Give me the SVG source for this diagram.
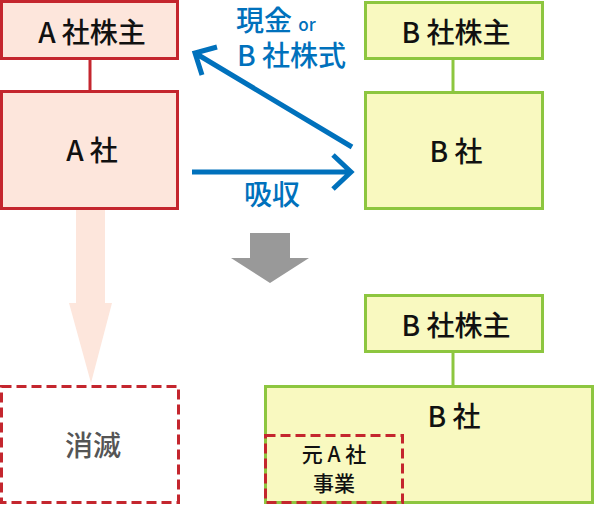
<svg xmlns="http://www.w3.org/2000/svg" width="595" height="505" viewBox="0 0 595 505">
<defs>
<style>
.a{fill:#fde6dc;stroke:#c4262e;stroke-width:3}
.b{fill:#f9f9c0;stroke:#8dc63f;stroke-width:3}
.d{fill:none;stroke:#c4262e;stroke-width:3;stroke-dasharray:10,5}
.t{font-family:"Noto Sans CJK JP","Noto Sans",sans-serif;font-size:28px;font-weight:500;fill:#111;text-anchor:middle}
.s{font-size:21px}
.bl{font-family:"Noto Sans CJK JP","Noto Sans",sans-serif;font-size:28px;font-weight:500;fill:#0071bc}
.c{fill:none;stroke:#0071bc;stroke-width:5}
</style>
</defs>
<g id="connectors">
<line x1="90" y1="58" x2="90" y2="91" stroke="#c4262e" stroke-width="3"/>
<line x1="453" y1="59" x2="453" y2="92" stroke="#8dc63f" stroke-width="3"/>
<line x1="453" y1="352" x2="453" y2="386" stroke="#8dc63f" stroke-width="3"/>
<path class="c" d="M192,172H351M333,155L351,172L333,189"/>
<path class="c" d="M352,147L195,53M217,47L195,53L202,75"/>
<polygon points="76,208 105,208 105,303 112,303 91,383 69,303 76,303" fill="#fde6dc"/>
<polygon points="250,233 290,233 290,258 309,258 270,283 231,258 250,258" fill="#999"/>
</g>
<g id="label-genkin">
<text class="bl" x="236" y="31">現金 <tspan font-size="17">or</tspan></text>
<text class="bl" x="237" y="66">B 社株式</text>
</g>
<g id="label-kyushu"><text class="bl" x="244" y="205">吸収</text></g>
<g id="a-shareholders"><rect class="a" x="1.5" y="1.5" width="176" height="57"/><text class="t" x="92" y="43">A 社株主</text></g>
<g id="a-company"><rect class="a" x="1.5" y="91.5" width="176" height="117"/><text class="t" x="92" y="161">A 社</text></g>
<g id="b-shareholders"><rect class="b" x="365.5" y="2.5" width="177" height="56"/><text class="t" x="456" y="43">B 社株主</text></g>
<g id="b-company"><rect class="b" x="365.5" y="92.5" width="177" height="116"/><text class="t" x="456" y="162">B 社</text></g>
<g id="extinct"><rect class="d" x="1.5" y="386.5" width="177" height="116"/><text class="t" x="93" y="456" style="fill:#555">消滅</text></g>
<g id="b-shareholders-after"><rect class="b" x="365.5" y="295.5" width="177" height="56"/><text class="t" x="456" y="336">B 社株主</text></g>
<g id="b-company-after"><rect class="b" x="265.5" y="386.5" width="327" height="116"/><text class="t" x="454" y="427">B 社</text></g>
<g id="former-a-business"><rect class="d" x="265.5" y="435.5" width="137" height="67"/><text class="t s" x="334" y="462">元 A 社</text><text class="t s" x="334" y="491">事業</text></g>
</svg>
